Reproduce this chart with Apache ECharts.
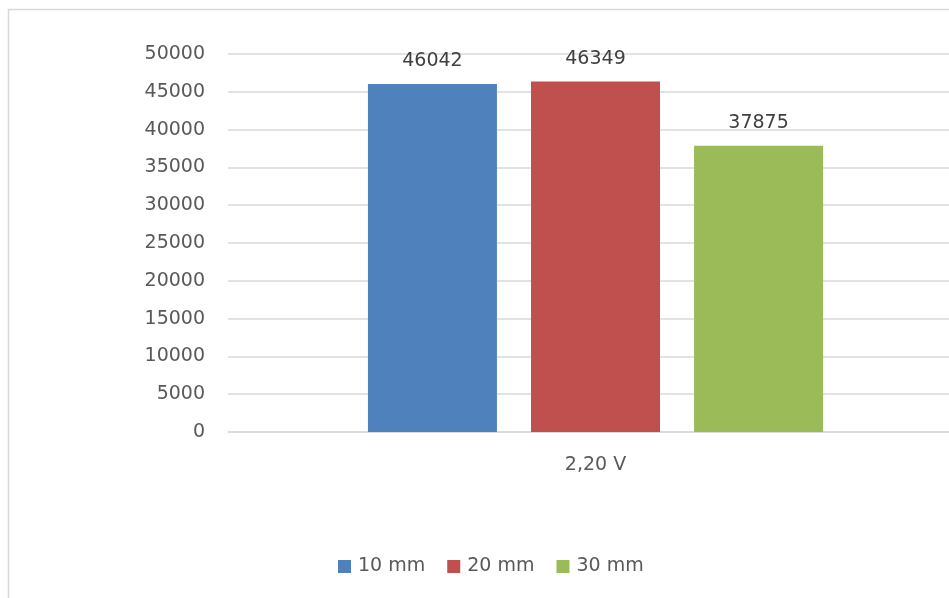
<!DOCTYPE html>
<html>
<head>
<meta charset="utf-8">
<script src="https://cdn.jsdelivr.net/npm/echarts@6/dist/echarts.min.js"></script>
<style>
  html, body { margin: 0; padding: 0; background: #fff; overflow: hidden; width: 949px; height: 598px; }
  /* the chart canvas is a little wider than the window; its right edge is cropped */
  #chart { width: 963px; height: 598px; }
</style>
</head>
<body>
<div id="chart"></div>
<script>
// Data
const categories = ['2,20 V'];
const seriesNames = ['10 mm', '20 mm', '30 mm'];
const values10 = [46042];
const values20 = [46349];
const values30 = [37875];
const yTicks = { min: 0, max: 50000, interval: 5000 };

const colors = ['#4F81BD', '#C0504D', '#9BBB59'];
const textColor = '#595959';
const fontFamily = 'DejaVu Sans';
const fontSize = 19;

const seriesValues = [values10, values20, values30];

const chart = echarts.init(document.getElementById('chart'), null, { renderer: 'canvas' });

const option = {
  animation: false,
  backgroundColor: '#ffffff',
  textStyle: { fontFamily: fontFamily },
  graphic: [{
    type: 'rect',
    shape: { x: 8.5, y: 9.5, width: 980, height: 620 },
    style: { fill: 'none', stroke: '#d9d9d9', lineWidth: 1.5 },
    silent: true,
    z: 0
  }],
  grid: { left: 228, right: 0, top: 54, bottom: 166, containLabel: false },
  legend: {
    bottom: 17,
    left: 333,
    itemWidth: 13,
    itemHeight: 13,
    itemGap: 22,
    icon: 'rect',
    textStyle: { color: textColor, fontSize: fontSize, fontFamily: fontFamily, padding: [0, 0, 0, 2] },
    data: seriesNames
  },
  xAxis: {
    type: 'category',
    data: categories,
    axisLine: { show: true, lineStyle: { color: '#d9d9d9', width: 1.5 } },
    axisTick: { show: false },
    axisLabel: { color: textColor, fontSize: fontSize, fontFamily: fontFamily, margin: 24 }
  },
  yAxis: {
    type: 'value',
    min: yTicks.min,
    max: yTicks.max,
    interval: yTicks.interval,
    axisLine: { show: false },
    axisTick: { show: false },
    axisLabel: {
      color: textColor, fontSize: fontSize, fontFamily: fontFamily, margin: 23,
      padding: [3, 0, 0, 0],
      formatter: v => String(v)
    },
    splitLine: { show: true, lineStyle: { color: '#d9d9d9', width: 1.5 } }
  },
  series: seriesNames.map((name, i) => ({
    name: name,
    type: 'bar',
    data: seriesValues[i],
    barWidth: 129,
    barGap: '26.4%',
    itemStyle: { color: colors[i] },
    label: {
      show: true,
      position: 'top',
      distance: 13,
      color: '#404040',
      fontSize: fontSize,
      fontFamily: fontFamily
    }
  }))
};

chart.setOption(option);
</script>
</body>
</html>
